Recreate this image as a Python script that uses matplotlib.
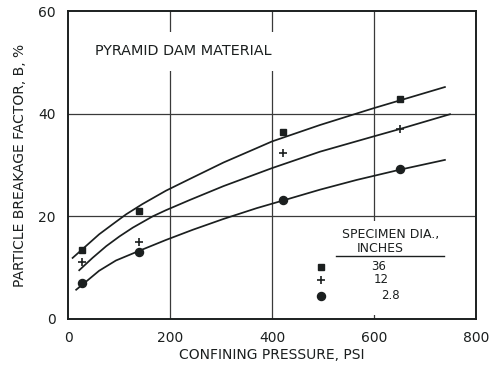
import matplotlib.pyplot as plt
from matplotlib.patches import Rectangle

# measured points, specimen dia. 36 / 12 / 2.8 in
pressure = [28, 140, 422, 651]
b_36 = [13.4, 21.0, 36.4, 42.9]
b_12 = [11.2, 15.0, 32.3, 37.1]
b_28 = [7.0, 13.0, 23.1, 29.2]

# fitted curves
curve_x_36 = [9, 35, 61, 88, 114, 146, 192, 239, 305, 370, 400, 494, 600, 739]
curve_y_36 = [11.9, 14.2, 16.5, 18.5, 20.4, 22.4, 25.0, 27.3, 30.5, 33.3, 34.6, 37.8, 41.1, 45.2]
curve_x_12 = [22, 48, 75, 101, 127, 166, 192, 239, 305, 400, 494, 600, 650, 749]
curve_y_12 = [9.5, 11.9, 14.2, 16.1, 17.8, 20.0, 21.2, 23.2, 25.9, 29.4, 32.6, 35.6, 37.0, 39.9]
curve_x_28 = [16, 32, 61, 94, 140, 192, 245, 305, 370, 422, 494, 566, 651, 739]
curve_y_28 = [5.7, 7.0, 9.4, 11.4, 13.3, 15.4, 17.4, 19.5, 21.6, 23.1, 25.2, 27.1, 29.1, 31.0]

xticks = [0, 200, 400, 600, 800]
yticks = [0, 20, 40, 60]
legend_labels = ["36", "12", "2.8"]

ink = "#1b1f1f"
plt.rcParams["font.family"] = ["DejaVu Sans"]

fig = plt.figure(figsize=(4.91, 3.67), dpi=100)
ax = fig.add_axes([0.1385, 0.1308, 0.831, 0.839])

ax.set_xlim(0, 800)
ax.set_ylim(0, 60)
ax.set_xticks(xticks)
ax.set_yticks(yticks)
ax.tick_params(length=0, labelsize=10, pad=9, colors=ink)
for s in ax.spines.values():
    s.set_linewidth(1.4)
    s.set_color(ink)

for v in xticks[1:-1]:
    ax.axvline(v, color="#3a3a3a", lw=0.9, zorder=1)
for v in yticks[1:-1]:
    ax.axhline(v, color="#3a3a3a", lw=0.9, zorder=1)

# white patch behind legend interrupts the 600 grid line
ax.add_patch(Rectangle((0.55, 0.012), 0.44, 0.305, transform=ax.transAxes,
                       facecolor="white", edgecolor="none", zorder=2))

for cx, cy in [(curve_x_36, curve_y_36), (curve_x_12, curve_y_12), (curve_x_28, curve_y_28)]:
    ax.plot(cx, cy, color=ink, lw=1.25, zorder=3, solid_joinstyle="round")

ax.plot(pressure, b_36, ls="none", marker="s", ms=5, color=ink, zorder=4)
ax.plot(pressure, b_12, ls="none", marker="+", ms=5.5, mew=1.2, color=ink, zorder=4)
ax.plot(pressure, b_28, ls="none", marker="o", ms=5.8, color=ink, zorder=4)

ax.text(0.282, 0.87, "PYRAMID DAM MATERIAL", transform=ax.transAxes, ha="center",
        va="center", fontsize=10.4, color=ink, zorder=5,
        bbox=dict(facecolor="white", edgecolor="none", pad=9))

# legend block
ax.text(0.79, 0.275, "SPECIMEN DIA.,", transform=ax.transAxes, ha="center",
        va="center", fontsize=9, color=ink, zorder=5)
ax.text(0.765, 0.229, "INCHES", transform=ax.transAxes, ha="center",
        va="center", fontsize=9, color=ink, zorder=5)
ax.plot([0.657, 0.922], [0.203, 0.203], transform=ax.transAxes, color=ink, lw=1.0, zorder=5)
leg_markers = [("s", 5, 1), ("+", 5.5, 1.2), ("o", 5.8, 1)]
leg_y = [0.17, 0.127, 0.075]
leg_x = [0.762, 0.767, 0.791]
for (m, ms, mew), ly, lx, lab in zip(leg_markers, leg_y, leg_x, legend_labels):
    ax.plot([0.62], [ly], transform=ax.transAxes, marker=m, ms=ms, mew=mew,
            color=ink, ls="none", zorder=5)
    ax.text(lx, ly, lab, transform=ax.transAxes, ha="center", va="center",
            fontsize=8.5, color=ink, zorder=5)

ax.set_xlabel("CONFINING PRESSURE, PSI", fontsize=10, color=ink, labelpad=2)
ax.set_ylabel("PARTICLE BREAKAGE FACTOR, B, %", fontsize=10, color=ink, labelpad=8)

fig.savefig("out.png", dpi=100)
